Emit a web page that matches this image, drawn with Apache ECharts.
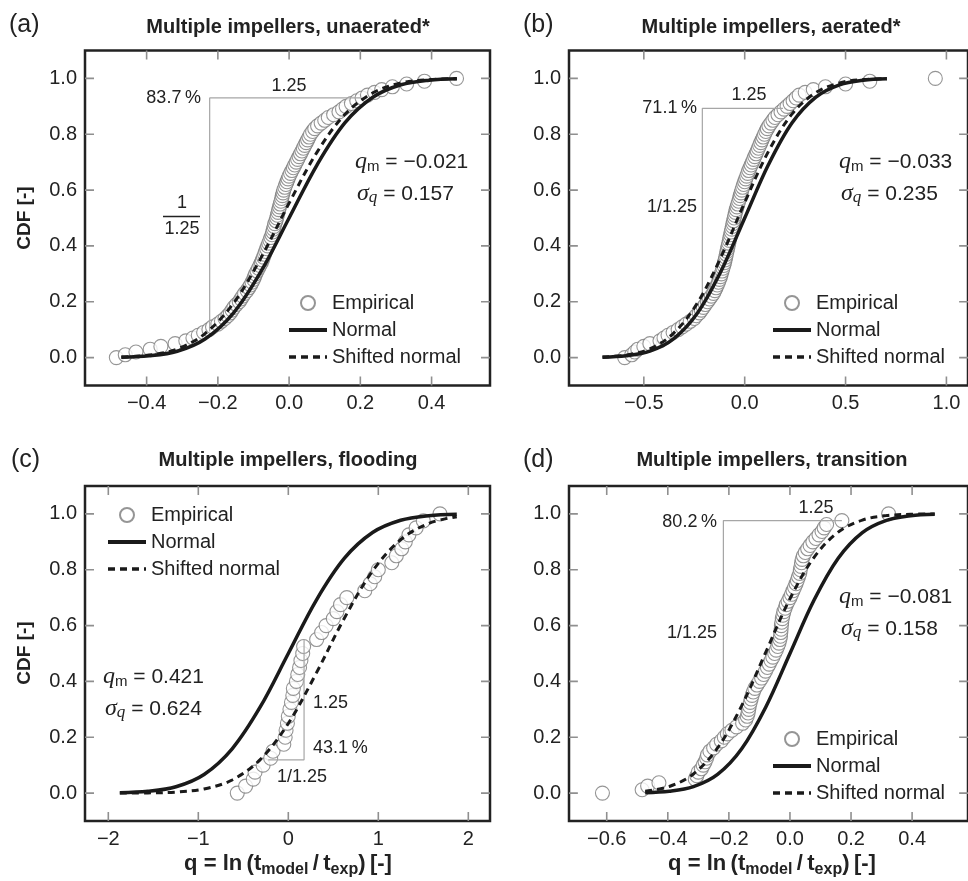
<!DOCTYPE html>
<html lang="en">
<head>
<meta charset="UTF-8">
<title>CDF of q, multiple impellers</title>
<script src="https://cdn.jsdelivr.net/npm/echarts@6/dist/echarts.min.js"></script>
<style>
  html, body { margin: 0; padding: 0; background: #fff; }
  #chart { width: 968px; height: 881px; }
</style>
</head>
<body>
<div id="chart"></div>
<script>
// ---- data ----
var yTicks = [0, 0.2, 0.4, 0.6, 0.8, 1.0];

// (a) unaerated
var aXTicks = [-0.4, -0.2, 0, 0.2, 0.4];
var aEmp = [[-0.485,0],[-0.46,0.01],[-0.43,0.02],[-0.39,0.03],[-0.36,0.04],[-0.32,0.05],[-0.29,0.06],[-0.27,0.07],[-0.255,0.08],[-0.24,0.09],
  [-0.225,0.1],[-0.215,0.11],[-0.2,0.12],[-0.19,0.13],[-0.18,0.14],[-0.172,0.15],[-0.165,0.16],[-0.16,0.17],[-0.155,0.18],[-0.148,0.19],
  [-0.14,0.2],[-0.135,0.21],[-0.13,0.22],[-0.125,0.23],[-0.118,0.24],[-0.113,0.25],[-0.108,0.26],[-0.104,0.27],[-0.1,0.28],[-0.097,0.29],
  [-0.094,0.3],[-0.09,0.31],[-0.086,0.32],[-0.082,0.33],[-0.078,0.34],[-0.075,0.35],[-0.072,0.36],[-0.069,0.37],[-0.066,0.38],[-0.063,0.39],
  [-0.06,0.4],[-0.057,0.41],[-0.054,0.42],[-0.051,0.43],[-0.048,0.44],[-0.046,0.45],[-0.044,0.46],[-0.042,0.47],[-0.04,0.48],[-0.037,0.49],
  [-0.035,0.5],[-0.033,0.51],[-0.031,0.52],[-0.029,0.53],[-0.027,0.54],[-0.025,0.55],[-0.023,0.56],[-0.021,0.57],[-0.019,0.58],[-0.017,0.59],
  [-0.015,0.6],[-0.012,0.61],[-0.009,0.62],[-0.006,0.63],[-0.003,0.64],[0,0.65],[0.004,0.66],[0.008,0.67],[0.012,0.68],[0.016,0.69],
  [0.02,0.7],[0.024,0.71],[0.028,0.72],[0.032,0.73],[0.036,0.74],[0.04,0.75],[0.044,0.76],[0.048,0.77],[0.052,0.78],[0.056,0.79],
  [0.06,0.8],[0.066,0.81],[0.072,0.82],[0.08,0.83],[0.09,0.84],[0.1,0.85],[0.11,0.86],[0.125,0.87],[0.14,0.88],[0.15,0.89],
  [0.16,0.9],[0.175,0.91],[0.19,0.92],[0.205,0.93],[0.22,0.94],[0.24,0.95],[0.26,0.96],[0.29,0.97],[0.33,0.98],[0.38,0.99],[0.47,1]];
var aCurveX = [-0.471,-0.393,-0.314,-0.236,-0.157,-0.079,0,0.079,0.157,0.236,0.314,0.393,0.471];
var aNormal = [0.0013,0.0062,0.0228,0.0668,0.1587,0.3085,0.5,0.6915,0.8413,0.9332,0.9772,0.9938,0.9987];
var aShifted = [0.0021,0.009,0.031,0.086,0.1932,0.3572,0.5533,0.737,0.8716,0.9489,0.9836,0.9958,0.9991];
var aBracket = [[-0.223,0.093],[-0.223,0.93],[0.2,0.93]];

// (b) aerated
var bXTicks = [-0.5, 0, 0.5, 1.0];
var bEmp = [[-0.595,0],[-0.56,0.01],[-0.545,0.02],[-0.53,0.03],[-0.5,0.04],[-0.47,0.05],[-0.42,0.06],[-0.4,0.07],[-0.38,0.08],[-0.355,0.09],
  [-0.33,0.1],[-0.31,0.11],[-0.29,0.12],[-0.27,0.13],[-0.25,0.14],[-0.24,0.15],[-0.225,0.16],[-0.215,0.17],[-0.205,0.18],[-0.195,0.19],
  [-0.185,0.2],[-0.175,0.21],[-0.165,0.22],[-0.155,0.23],[-0.148,0.24],[-0.142,0.25],[-0.136,0.26],[-0.13,0.27],[-0.125,0.28],[-0.12,0.29],
  [-0.116,0.3],[-0.112,0.31],[-0.108,0.32],[-0.104,0.33],[-0.1,0.34],[-0.097,0.35],[-0.094,0.36],[-0.091,0.37],[-0.088,0.38],[-0.085,0.39],
  [-0.082,0.4],[-0.079,0.41],[-0.076,0.42],[-0.073,0.43],[-0.07,0.44],[-0.067,0.45],[-0.064,0.46],[-0.061,0.47],[-0.058,0.48],[-0.055,0.49],
  [-0.052,0.5],[-0.049,0.51],[-0.046,0.52],[-0.042,0.53],[-0.038,0.54],[-0.034,0.55],[-0.03,0.56],[-0.026,0.57],[-0.022,0.58],[-0.018,0.59],
  [-0.014,0.6],[-0.01,0.61],[-0.005,0.62],[0,0.63],[0.005,0.64],[0.01,0.65],[0.015,0.66],[0.02,0.67],[0.026,0.68],[0.032,0.69],
  [0.038,0.7],[0.044,0.71],[0.05,0.72],[0.056,0.73],[0.062,0.74],[0.068,0.75],[0.074,0.76],[0.08,0.77],[0.086,0.78],[0.092,0.79],
  [0.098,0.8],[0.105,0.81],[0.112,0.82],[0.12,0.83],[0.13,0.84],[0.14,0.85],[0.15,0.86],[0.165,0.87],[0.18,0.88],[0.195,0.89],
  [0.21,0.9],[0.225,0.91],[0.24,0.92],[0.255,0.93],[0.27,0.94],[0.3,0.95],[0.34,0.96],[0.4,0.97],[0.5,0.98],[0.62,0.99],[0.945,1]];
var bCurveX = [-0.705,-0.588,-0.47,-0.353,-0.235,-0.118,0,0.118,0.235,0.353,0.47,0.588,0.705];
var bNormal = [0.0013,0.0062,0.0228,0.0668,0.1587,0.3085,0.5,0.6915,0.8413,0.9332,0.9772,0.9938,0.9987];
var bShifted = [0.0021,0.0091,0.0314,0.0869,0.1949,0.3594,0.5557,0.7389,0.8729,0.9495,0.9838,0.9959,0.9992];
var bBracket = [[-0.21,0.182],[-0.21,0.893],[0.19,0.893]];

// (c) flooding
var cXTicks = [-2, -1, 0, 1, 2];
var cEmp = [[-0.567,0],[-0.474,0.025],[-0.389,0.05],[-0.37,0.075],[-0.28,0.1],[-0.196,0.125],[-0.17,0.15],[-0.05,0.175],[-0.035,0.2],[-0.025,0.225],
  [-0.01,0.25],[0,0.275],[0.018,0.3],[0.035,0.325],[0.05,0.35],[0.056,0.375],[0.09,0.4],[0.105,0.425],[0.125,0.45],[0.14,0.475],
  [0.16,0.5],[0.17,0.525],[0.315,0.55],[0.37,0.575],[0.42,0.6],[0.5,0.625],[0.54,0.65],[0.58,0.675],[0.65,0.7],[0.85,0.725],
  [0.91,0.75],[0.96,0.775],[1.0,0.8],[1.15,0.825],[1.2,0.85],[1.26,0.875],[1.3,0.9],[1.34,0.925],[1.42,0.95],[1.5,0.975],[1.685,1]];
var cCurveX = [-1.872,-1.56,-1.248,-0.936,-0.624,-0.312,0,0.312,0.624,0.936,1.248,1.56,1.872];
var cNormal = [0.0013,0.0062,0.0228,0.0668,0.1587,0.3085,0.5,0.6915,0.8413,0.9332,0.9772,0.9938,0.9987];
var cShifted = [0.0001,0.0007,0.0037,0.0148,0.047,0.12,0.2498,0.4305,0.6274,0.7953,0.9074,0.966,0.99];
var cBracket = [[-0.223,0.119],[0.175,0.119],[0.175,0.55]];

// (d) transition
var dXTicks = [-0.6, -0.4, -0.2, 0, 0.2, 0.4];
var dEmp = [[-0.614,0],[-0.484,0.012],[-0.466,0.025],[-0.429,0.037],[-0.31,0.05],[-0.305,0.062],[-0.3,0.075],[-0.29,0.087],[-0.284,0.1],[-0.278,0.112],
  [-0.273,0.125],[-0.27,0.137],[-0.262,0.15],[-0.25,0.162],[-0.24,0.175],[-0.225,0.187],[-0.215,0.2],[-0.205,0.212],[-0.19,0.225],[-0.175,0.237],
  [-0.155,0.25],[-0.145,0.262],[-0.14,0.275],[-0.137,0.287],[-0.135,0.3],[-0.133,0.312],[-0.13,0.325],[-0.127,0.337],[-0.124,0.35],[-0.12,0.362],
  [-0.115,0.375],[-0.108,0.387],[-0.1,0.4],[-0.093,0.412],[-0.086,0.425],[-0.08,0.437],[-0.074,0.45],[-0.068,0.462],[-0.062,0.475],[-0.056,0.487],
  [-0.05,0.5],[-0.045,0.512],[-0.04,0.525],[-0.036,0.537],[-0.033,0.55],[-0.031,0.562],[-0.03,0.575],[-0.029,0.587],[-0.028,0.6],[-0.027,0.612],
  [-0.025,0.625],[-0.023,0.637],[-0.02,0.65],[-0.016,0.662],[-0.012,0.675],[-0.006,0.687],[0,0.7],[0.005,0.712],[0.01,0.725],[0.015,0.737],
  [0.02,0.75],[0.024,0.762],[0.028,0.775],[0.032,0.787],[0.034,0.8],[0.036,0.812],[0.038,0.825],[0.04,0.837],[0.044,0.85],[0.05,0.862],
  [0.058,0.875],[0.066,0.887],[0.075,0.9],[0.085,0.912],[0.095,0.925],[0.105,0.937],[0.112,0.95],[0.12,0.962],[0.17,0.976],[0.323,1]];
var dCurveX = [-0.474,-0.395,-0.316,-0.237,-0.158,-0.079,0,0.079,0.158,0.237,0.316,0.395,0.474];
var dNormal = [0.0013,0.0062,0.0228,0.0668,0.1587,0.3085,0.5,0.6915,0.8413,0.9332,0.9772,0.9938,0.9987];
var dShifted = [0.0064,0.0235,0.0685,0.1618,0.3131,0.5052,0.696,0.8445,0.9349,0.9779,0.994,0.9987,0.9998];
var dBracket = [[-0.218,0.174],[-0.218,0.976],[0.17,0.976]];

// ---- layout ----
var FONT = '"Liberation Sans", Arial, Helvetica, sans-serif';
var SERIF = '"Liberation Serif", "DejaVu Serif", serif';
var INK = '#222';
var TICK_LEN = 9;
var Y_MIN = -0.1, Y_MAX = 1.1;

var panels = [
  { grid: {left: 85, top: 50.5, width: 405, height: 335}, xMin: -0.573, xMax: 0.564, ticks: aXTicks, dec: 1,
    emp: aEmp, cx: aCurveX, normal: aNormal, shifted: aShifted, bracket: aBracket },
  { grid: {left: 569, top: 50.5, width: 405, height: 335}, xMin: -0.871, xMax: 1.107, ticks: bXTicks, dec: 1,
    emp: bEmp, cx: bCurveX, normal: bNormal, shifted: bShifted, bracket: bBracket },
  { grid: {left: 85, top: 486, width: 405, height: 335}, xMin: -2.259, xMax: 2.241, ticks: cXTicks, dec: 0,
    emp: cEmp, cx: cCurveX, normal: cNormal, shifted: cShifted, bracket: cBracket },
  { grid: {left: 569, top: 486, width: 405, height: 335}, xMin: -0.7235, xMax: 0.583, ticks: dXTicks, dec: 1,
    emp: dEmp, cx: dCurveX, normal: dNormal, shifted: dShifted, bracket: dBracket }
];

function fmt(dec) {
  return function (v) { return Number(v).toFixed(dec).replace('-', '\u2212'); };
}
function zip(xs, ys) {
  return xs.map(function (x, i) { return [x, ys[i]]; });
}

// short inward segments at every tick value, on all four sides, as one broken line
function tickSegments(p) {
  var dy = TICK_LEN / p.grid.height * (Y_MAX - Y_MIN);
  var dx = TICK_LEN / p.grid.width * (p.xMax - p.xMin);
  var pts = [];
  p.ticks.forEach(function (t) {
    pts.push([t, Y_MIN], [t, Y_MIN + dy], ['-', '-']);
    pts.push([t, Y_MAX], [t, Y_MAX - dy], ['-', '-']);
  });
  yTicks.forEach(function (t) {
    pts.push([p.xMin, t], [p.xMin + dx, t], ['-', '-']);
    pts.push([p.xMax, t], [p.xMax - dx, t], ['-', '-']);
  });
  return pts;
}

var grids = [], xAxes = [], yAxes = [], series = [];

panels.forEach(function (p, i) {
  // frame drawn by the grid itself
  grids.push(Object.assign({ show: true, borderColor: INK, borderWidth: 2.5, backgroundColor: 'rgba(255,255,255,0)' }, p.grid));
  xAxes.push({
    type: 'value', gridIndex: i, position: 'bottom', min: p.xMin, max: p.xMax,
    axisLine: { show: false, onZero: false }, splitLine: { show: false }, axisTick: { show: false },
    axisLabel: { customValues: p.ticks, formatter: fmt(p.dec), fontSize: 20, fontFamily: FONT, color: INK, margin: 8 }
  });
  yAxes.push({
    type: 'value', gridIndex: i, position: 'left', min: Y_MIN, max: Y_MAX,
    axisLine: { show: false, onZero: false }, splitLine: { show: false }, axisTick: { show: false },
    axisLabel: { customValues: yTicks, formatter: fmt(1), fontSize: 20, fontFamily: FONT, color: INK, margin: 8 }
  });

  series.push({
    type: 'line', name: 'ticks', xAxisIndex: i, yAxisIndex: i, data: tickSegments(p),
    symbol: 'none', silent: true, clip: false, connectNulls: false, z: 10,
    lineStyle: { color: '#8f8f8f', width: 1.6 }
  });
  series.push({
    type: 'line', name: 'bracket', xAxisIndex: i, yAxisIndex: i, data: p.bracket,
    symbol: 'none', silent: true, lineStyle: { color: '#a6a6a6', width: 1.2 }
  });
  series.push({
    type: 'scatter', name: 'Empirical', xAxisIndex: i, yAxisIndex: i, data: p.emp,
    symbol: 'circle', symbolSize: 14,
    itemStyle: { color: '#fff', borderColor: '#7a7a7a', borderWidth: 1.1 }
  });
  series.push({
    type: 'line', name: 'Normal', xAxisIndex: i, yAxisIndex: i, data: zip(p.cx, p.normal),
    symbol: 'none', smooth: 0.35, itemStyle: { color: '#1a1a1a' }, lineStyle: { color: '#1a1a1a', width: 3.5 }
  });
  series.push({
    type: 'line', name: 'Shifted normal', xAxisIndex: i, yAxisIndex: i, data: zip(p.cx, p.shifted),
    symbol: 'none', smooth: 0.35, itemStyle: { color: '#1a1a1a' }, lineStyle: { color: '#1a1a1a', width: 3, type: [7, 5] }
  });
});

var hiddenSymbol = { color: 'rgba(0,0,0,0)', borderWidth: 0, opacity: 0 };
function legendAt(left, top) {
  return {
    left: left, top: top, padding: 0, orient: 'vertical', itemWidth: 38, itemHeight: 14, itemGap: 7,
    selectedMode: false,
    data: [
      { name: 'Empirical' },
      { name: 'Normal', itemStyle: hiddenSymbol, lineStyle: { width: 4 } },
      { name: 'Shifted normal', itemStyle: hiddenSymbol, lineStyle: { width: 3.5 } }
    ],
    textStyle: { fontSize: 20, fontFamily: FONT, color: INK }
  };
}

function txt(x, y, text, size, extra) {
  return {
    type: 'text', x: x, y: y,
    style: Object.assign({ text: text, fill: INK, fontSize: size, fontFamily: FONT, align: 'left', verticalAlign: 'middle' }, extra || {})
  };
}

var statRich = {
  it: { fontFamily: SERIF, fontStyle: 'italic', fontSize: 24, fill: INK, lineHeight: 24 },
  sm: { fontFamily: FONT, fontSize: 15, fill: INK, verticalAlign: 'bottom', lineHeight: 16 },
  si: { fontFamily: SERIF, fontStyle: 'italic', fontSize: 17, fill: INK, verticalAlign: 'bottom', lineHeight: 16 },
  n: { fontFamily: FONT, fontSize: 21, fill: INK, lineHeight: 24 }
};
function stats(x, y, qm, sq) {
  return [
    { type: 'text', x: x, y: y, style: { text: '{it|q}{sm|m}{n| = ' + qm + '}', rich: statRich, align: 'left', verticalAlign: 'middle' } },
    { type: 'text', x: x + 2, y: y + 32, style: { text: '{it|\u03C3}{si|q}{n| = ' + sq + '}', rich: statRich, align: 'left', verticalAlign: 'middle' } }
  ];
}

var nameRich = {
  b: { fontFamily: FONT, fontWeight: 'bold', fontSize: 22, fill: INK, lineHeight: 28 },
  s: { fontFamily: FONT, fontWeight: 'bold', fontSize: 16, fill: INK, verticalAlign: 'bottom', lineHeight: 19 }
};
function xName(cx) {
  return { type: 'text', x: cx, y: 864,
    style: { text: '{b|q = ln\u2009(t}{s|model}{b|\u2009/\u2009t}{s|exp}{b|)\u2009[-]}', rich: nameRich, align: 'center', verticalAlign: 'middle' } };
}
function yName(cy) {
  return { type: 'text', x: 25, y: cy, rotation: Math.PI / 2,
    style: { text: 'CDF [-]', fill: INK, fontSize: 19, fontWeight: 'bold', fontFamily: FONT, align: 'center', verticalAlign: 'middle' } };
}
function title(cx, cy, text) {
  return txt(cx, cy, text, 20, { fontWeight: 'bold', align: 'center' });
}

var graphics = [
  txt(9, 25, '(a)', 25), txt(523, 25, '(b)', 25), txt(11, 460, '(c)', 25), txt(523, 460, '(d)', 25),
  title(288, 27, 'Multiple impellers, unaerated*'),
  title(771, 27, 'Multiple impellers, aerated*'),
  title(288, 460, 'Multiple impellers, flooding'),
  title(772, 460, 'Multiple impellers, transition'),
  yName(218), yName(653), xName(288), xName(772),
  // (a) annotations
  txt(201, 98, '83.7\u2009%', 18, { align: 'right' }),
  txt(289, 86, '1.25', 18, { align: 'center' }),
  txt(182, 203, '1', 18, { align: 'center' }),
  { type: 'line', shape: { x1: 163, y1: 216.5, x2: 200, y2: 216.5 }, style: { stroke: INK, lineWidth: 1.5 } },
  txt(182, 229, '1.25', 18, { align: 'center' }),
  // (b)
  txt(697, 108, '71.1\u2009%', 18, { align: 'right' }),
  txt(749, 95, '1.25', 18, { align: 'center' }),
  txt(697, 207, '1/1.25', 18, { align: 'right' }),
  // (c)
  txt(313, 703, '1.25', 18),
  txt(313, 748, '43.1\u2009%', 18),
  txt(277, 777, '1/1.25', 18),
  // (d)
  txt(717, 522, '80.2\u2009%', 18, { align: 'right' }),
  txt(816, 508, '1.25', 18, { align: 'center' }),
  txt(717, 633, '1/1.25', 18, { align: 'right' })
].concat(
  stats(355, 162, '\u22120.021', '0.157'),
  stats(839, 162, '\u22120.033', '0.235'),
  stats(103, 677, '0.421', '0.624'),
  stats(839, 597, '\u22120.081', '0.158')
);

var chart = echarts.init(document.getElementById('chart'), null, { renderer: 'canvas' });
chart.setOption({
  backgroundColor: '#fff',
  animation: false,
  grid: grids,
  xAxis: xAxes,
  yAxis: yAxes,
  legend: [legendAt(287, 293), legendAt(771, 293), legendAt(106, 505), legendAt(771, 729)],
  graphic: graphics,
  series: series
});
</script>
</body>
</html>
